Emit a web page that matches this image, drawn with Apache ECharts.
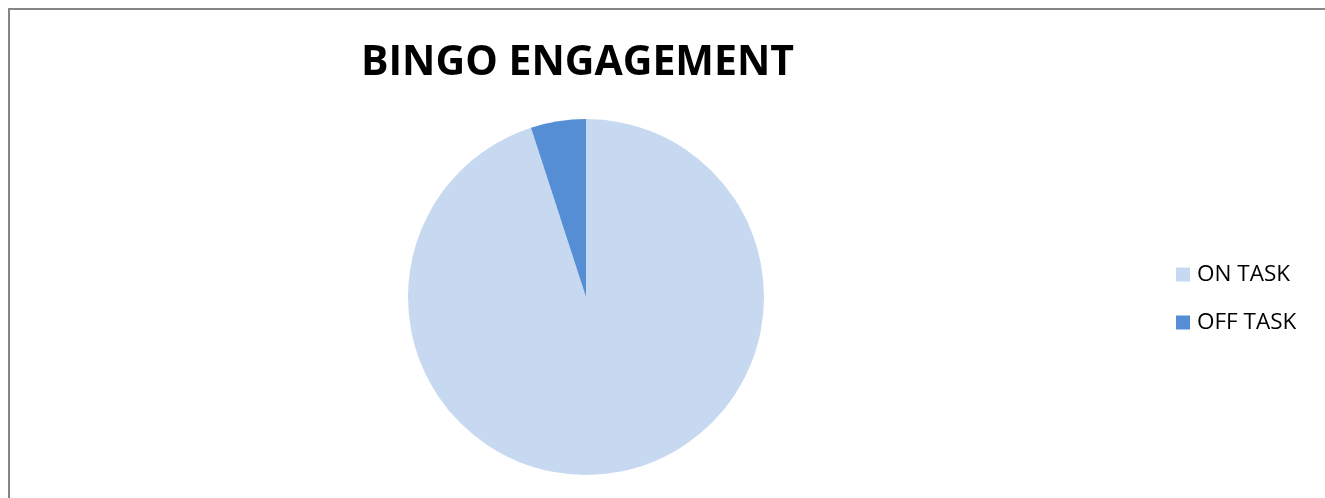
<!DOCTYPE html>
<html>
<head>
<meta charset="utf-8">
<script src="https://cdn.jsdelivr.net/npm/echarts@6/dist/echarts.min.js"></script>
<style>
html,body{margin:0;padding:0;background:#fff;}
#c{width:1325px;height:498px;}
</style>
</head>
<body>
<div id="c"></div>
<script>
const titleText = "BINGO ENGAGEMENT";
const categories = ["ON TASK", "OFF TASK"];
const values = [95, 5];
const colors = ["#C6D9F1", "#558ED5"];

const chart = echarts.init(document.getElementById('c'), null, {renderer: 'canvas'});
chart.setOption({
  backgroundColor: '#ffffff',
  animation: false,
  title: {
    text: titleText,
    left: 361,
    top: 41,
    padding: 0,
    textStyle: {
      fontFamily: 'Open Sans',
      fontWeight: 'bold',
      fontSize: 41,
      lineHeight: 44,
      color: '#000'
    }
  },
  legend: {
    orient: 'vertical',
    left: 1176,
    top: 263,
    padding: 0,
    itemWidth: 14,
    itemHeight: 14,
    itemGap: 25,
    icon: 'rect',
    data: categories,
    textStyle: {
      fontFamily: 'Open Sans',
      fontSize: 22.5,
      lineHeight: 22,
      color: '#000',
      padding: [0, 0, 0, 2]
    }
  },
  graphic: [{
    type: 'rect',
    shape: {x: 9, y: 9, width: 2000, height: 2000},
    style: {fill: 'none', stroke: '#858585', lineWidth: 2},
    silent: true
  }],
  series: [{
    type: 'pie',
    center: [586, 297],
    radius: 178,
    startAngle: 90,
    clockwise: true,
    label: {show: false},
    labelLine: {show: false},
    itemStyle: {borderWidth: 0},
    emphasis: {disabled: true},
    data: categories.map((c, i) => ({name: c, value: values[i], itemStyle: {color: colors[i]}}))
  }]
});
</script>
</body>
</html>
